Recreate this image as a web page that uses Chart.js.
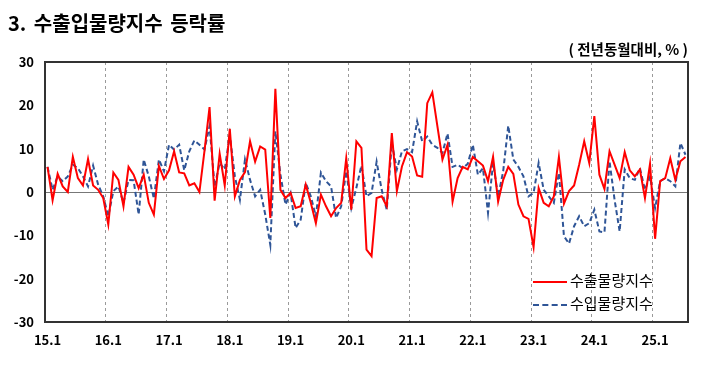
<!DOCTYPE html>
<html>
<head>
<meta charset="utf-8">
<script src="https://cdn.jsdelivr.net/npm/chart.js@4"></script>
<style>
	body { margin: 0; background: #fff; }
	#wrap { position: relative; width: 710px; height: 372px; font-family: "Noto Sans CJK KR", sans-serif; }
	#title { position: absolute; left: 8px; top: 8px; font-size: 20px; line-height: 29px; font-weight: bold; color: #000; white-space: nowrap; word-spacing: 3px; }
	#unit { position: absolute; right: 22px; top: 39px; font-size: 14.5px; line-height: 20px; font-weight: bold; color: #000; white-space: nowrap; }
	.leg { position: absolute; left: 533px; font-size: 15px; color: #000; white-space: nowrap; line-height: 18px; }
	.leg span { display: inline-block; width: 34px; vertical-align: middle; margin-right: 3px; }
	canvas { position: absolute; left: 0; top: 0; }
</style>
</head>
<body>
<div id="wrap">
	<canvas id="chart" width="710" height="372"></canvas>
	<div id="title">3. 수출입물량지수 등락률</div>
	<div id="unit">( 전년동월대비, % )</div>
	<div class="leg" style="top: 271px;"><span style="border-top: 2px solid #ff0000;"></span>수출물량지수</div>
	<div class="leg" style="top: 294px;"><span style="border-top: 2px dashed #2f5597;"></span>수입물량지수</div>
</div>
<script>
// 15.1 ~ 25.7, 월별
const years = ["15", "16", "17", "18", "19", "20", "21", "22", "23", "24", "25"];
const lastMonth = 7;

// 수출물량지수 (전년동월대비, %)
const exportRate = [
	5.8, -1.9, 4.2, 1.3, 0.0, 8.1, 3.2, 1.5, 7.6, 1.5, 0.5, -1.4,
	-7.5, 4.5, 2.8, -3.3, 5.8, 4.0, 0.9, 4.0, -2.5, -5.2, 6.0, 3.0,
	5.0, 9.4, 4.5, 4.3, 1.5, 2.0, 0.0, 9.5, 19.6, -2.0, 8.8, 1.5,
	14.6, -1.0, 2.8, 4.6, 11.7, 7.0, 10.5, 9.8, -6.0, 23.8, 0.5, -1.4,
	-0.2, -3.7, -3.3, 1.7, -2.5, -7.2, -0.6, -3.3, -5.6, -3.7, -2.5, 7.8,
	-4.1, 11.7, 10.2, -13.3, -14.8, -1.4, -1.0, -3.3, 13.6, 0.2, 5.9, 9.2,
	8.2, 3.8, 3.5, 20.5, 23.0, 15.2, 7.5, 10.9, -2.2, 3.2, 5.8, 5.2,
	8.1, 7.1, 6.1, 2.5, 8.1, -2.2, 2.8, 5.8, 4.2, -2.9, -5.6, -6.2,
	-12.7, 0.9, -2.5, -3.3, -1.0, 8.1, -2.7, 0.2, 1.5, 6.3, 11.7, 6.7,
	17.5, 4.0, 0.7, 9.4, 6.3, 3.2, 9.2, 5.0, 3.6, 5.2, -1.4, 6.5,
	-10.8, 2.5, 3.2, 7.8, 2.8, 7.1, 8.1
];

// 수입물량지수 (전년동월대비, %)
const importRate = [
	5.8, 0.5, 3.6, 2.5, 3.6, 6.3, 5.5, 3.6, 1.3, 6.1, 1.7, -1.0,
	-5.6, 0.2, 1.3, -2.5, 2.8, 2.7, -5.2, 7.5, 3.6, -1.5, 7.5, 4.8,
	10.9, 9.8, 10.9, 5.0, 9.4, 11.9, 10.9, 9.8, 15.2, 1.3, 6.7, 5.2,
	13.2, 3.6, -1.8, 7.5, 2.8, -1.0, 0.5, -5.2, -12.2, 14.0, 4.0, -2.9,
	-0.2, -8.3, -6.4, 2.1, -1.0, -5.6, 4.5, 2.5, 1.3, -6.0, -3.3, 4.8,
	-3.7, 1.0, 6.1, -1.0, -0.2, 7.0, 0.5, -4.1, 11.3, 5.2, 9.4, 9.9,
	9.2, 16.3, 11.7, 12.8, 10.9, 10.2, 9.0, 13.5, 5.8, 6.3, 5.5, 6.5,
	10.9, 4.0, 5.5, -4.8, 6.7, -1.0, 4.8, 15.3, 7.5, 5.8, 3.6, -1.0,
	-0.2, 6.7, 0.5, -1.0, -2.5, 4.4, -10.2, -11.9, -7.9, -5.6, -7.9, -7.2,
	-4.1, -9.1, -9.3, 7.1, -1.8, -9.1, 5.2, 3.2, 2.8, 5.5, 0.5, 3.6,
	-3.7, 2.5, 3.2, 2.5, 1.3, 11.3, 8.6
];

const yTicks = [-30, -20, -10, 0, 10, 20, 30];

const months = [];
years.forEach((y, i) => {
	const n = i === years.length - 1 ? lastMonth : 12;
	for (let m = 1; m <= n; m++) months.push(y + "." + m);
});

const frame = {
	id: "frame",
	afterDraw(chart) {
		const { ctx, chartArea } = chart;
		ctx.save();
		ctx.strokeStyle = "#333";
		ctx.lineWidth = 2;
		ctx.strokeRect(chartArea.left, chartArea.top, chartArea.right - chartArea.left, chartArea.bottom - chartArea.top);
		ctx.restore();
	},
};

const tickFont = { family: "'Noto Sans CJK KR', sans-serif", size: 13, weight: "bold" };

new Chart(document.getElementById("chart").getContext("2d"), {
	type: "line",
	data: {
		labels: months,
		datasets: [
			{
				label: "수출물량지수",
				data: exportRate,
				borderColor: "#ff0000",
				borderWidth: 2,
				pointRadius: 0,
				tension: 0,
			},
			{
				label: "수입물량지수",
				data: importRate,
				borderColor: "#2f5597",
				borderWidth: 2,
				borderDash: [5, 3],
				pointRadius: 0,
				tension: 0,
			},
		],
	},
	options: {
		responsive: false,
		animation: false,
		layout: { padding: { left: 0, right: 22, top: 62, bottom: 20 } },
		plugins: {
			legend: { display: false },
			tooltip: { enabled: false },
		},
		scales: {
			x: {
				type: "category",
				offset: true,
				afterFit: (s) => { s.height = 30; },
				grid: {
					offset: true,
					drawTicks: false,
					lineWidth: 1,
					color: (c) => (c.index > 0 && c.index % 12 === 0 ? "#9a9a9a" : "rgba(0,0,0,0)"),
				},
				border: { display: false, dash: [3, 3] },
				ticks: {
					autoSkip: false,
					maxRotation: 0,
					minRotation: 0,
					padding: 10,
					color: "#000",
					font: tickFont,
					callback: function (v, i) {
						return i % 12 === 0 ? months[i] : "";
					},
				},
			},
			y: {
				min: -30,
				max: 30,
				afterFit: (s) => { s.width = 45; },
				afterBuildTicks: (s) => { s.ticks = yTicks.map((v) => ({ value: v })); },
				grid: {
					drawTicks: false,
					lineWidth: 1,
					color: (c) => (c.tick && c.tick.value === 0 ? "#777" : "rgba(0,0,0,0)"),
				},
				border: { display: false },
				ticks: {
					padding: 11,
					color: "#000",
					font: tickFont,
				},
			},
		},
	},
	plugins: [frame],
});
</script>
</body>
</html>
